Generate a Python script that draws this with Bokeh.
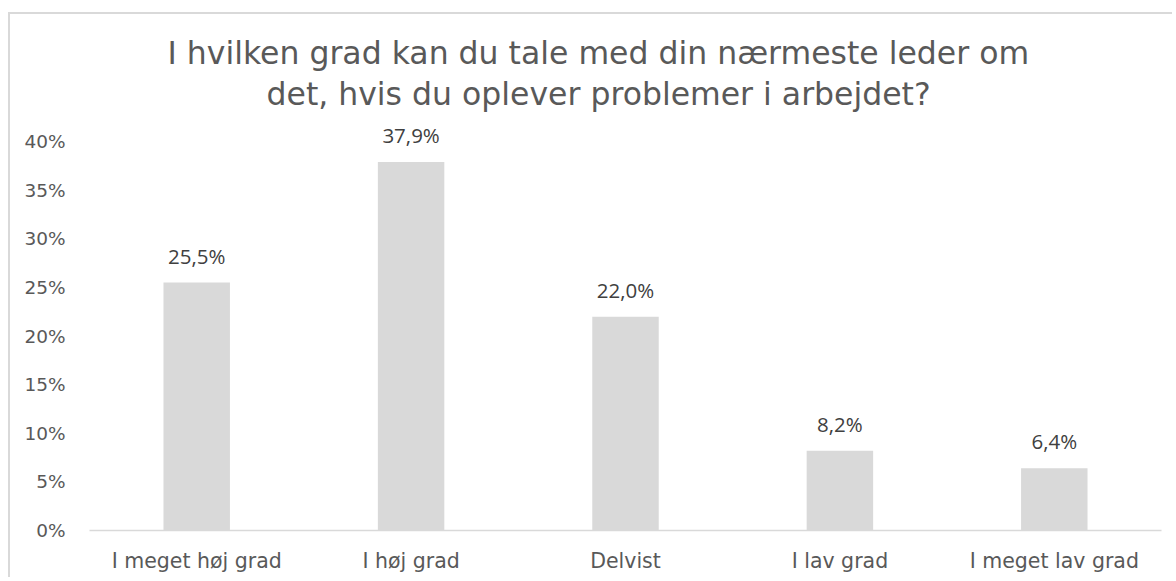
from bokeh.plotting import figure
from bokeh.models import ColumnDataSource, FactorRange, Range1d, FixedTicker, NumeralTickFormatter, Title
from bokeh.core.properties import value
from bokeh.embed import file_html
from bokeh.resources import INLINE

categories = ["I meget høj grad", "I høj grad", "Delvist", "I lav grad", "I meget lav grad"]
shares = [25.5, 37.9, 22.0, 8.2, 6.4]
y_ticks = [0, 5, 10, 15, 20, 25, 30, 35, 40]
title_lines = ["I hvilken grad kan du tale med din nærmeste leder om",
               "det, hvis du oplever problemer i arbejdet?"]

src = ColumnDataSource(dict(
    cat=categories,
    frac=[v / 100 for v in shares],
    lbl=[f"{v:.1f}%".replace(".", ",") for v in shares],
))

p = figure(
    x_range=FactorRange(*categories, range_padding=0),
    y_range=Range1d(0, 0.43),
    width=1164, height=565,
    output_backend="svg", toolbar_location=None,
    min_border_left=79, min_border_right=13, min_border_top=98, min_border_bottom=49,
)
p.margin = (12, 0, 0, 8)
p.styles = {"border-top": "2px solid #d9d9d9", "border-left": "2px solid #d9d9d9"}

p.vbar(x="cat", top="frac", width=0.31, source=src, fill_color="#D9D9D9", line_color=None)
p.text(x="cat", y="frac", text="lbl", source=src, y_offset=-27,
       text_align="center", text_baseline="alphabetic",
       text_font=value("Open Sans"), text_font_size="20.5px", text_color="#404040")

p.add_layout(Title(text=title_lines[1], align="left", offset=177, standoff=1,
                   text_font="DejaVu Sans", text_font_size="31.5px",
                   text_font_style="normal", text_color="#595959"), "above")
p.add_layout(Title(text=title_lines[0], align="left", offset=78, standoff=5,
                   text_font="DejaVu Sans", text_font_size="31.5px",
                   text_font_style="normal", text_color="#595959"), "above")

p.xgrid.visible = False
p.ygrid.visible = False
p.outline_line_color = None
p.background_fill_color = "white"
p.border_fill_color = "white"

ya = p.yaxis[0]
ya.ticker = FixedTicker(ticks=[t / 100 for t in y_ticks])
ya.formatter = NumeralTickFormatter(format="0%")
ya.axis_line_color = None
ya.major_tick_line_color = None
ya.minor_tick_line_color = None
ya.major_tick_in = 0
ya.major_tick_out = 0
ya.major_label_standoff = 24
ya.major_label_text_font = "DejaVu Sans"
ya.major_label_text_font_size = "18.5px"
ya.major_label_text_color = "#595959"

xa = p.xaxis[0]
xa.axis_line_color = "#D9D9D9"
xa.axis_line_width = 1.5
xa.major_tick_line_color = None
xa.minor_tick_line_color = None
xa.major_tick_in = 0
xa.major_tick_out = 0
xa.major_label_standoff = 18
xa.major_label_text_font = "DejaVu Sans"
xa.major_label_text_font_size = "20.5px"
xa.major_label_text_color = "#595959"

open("out.html", "w").write(file_html(p, INLINE))
